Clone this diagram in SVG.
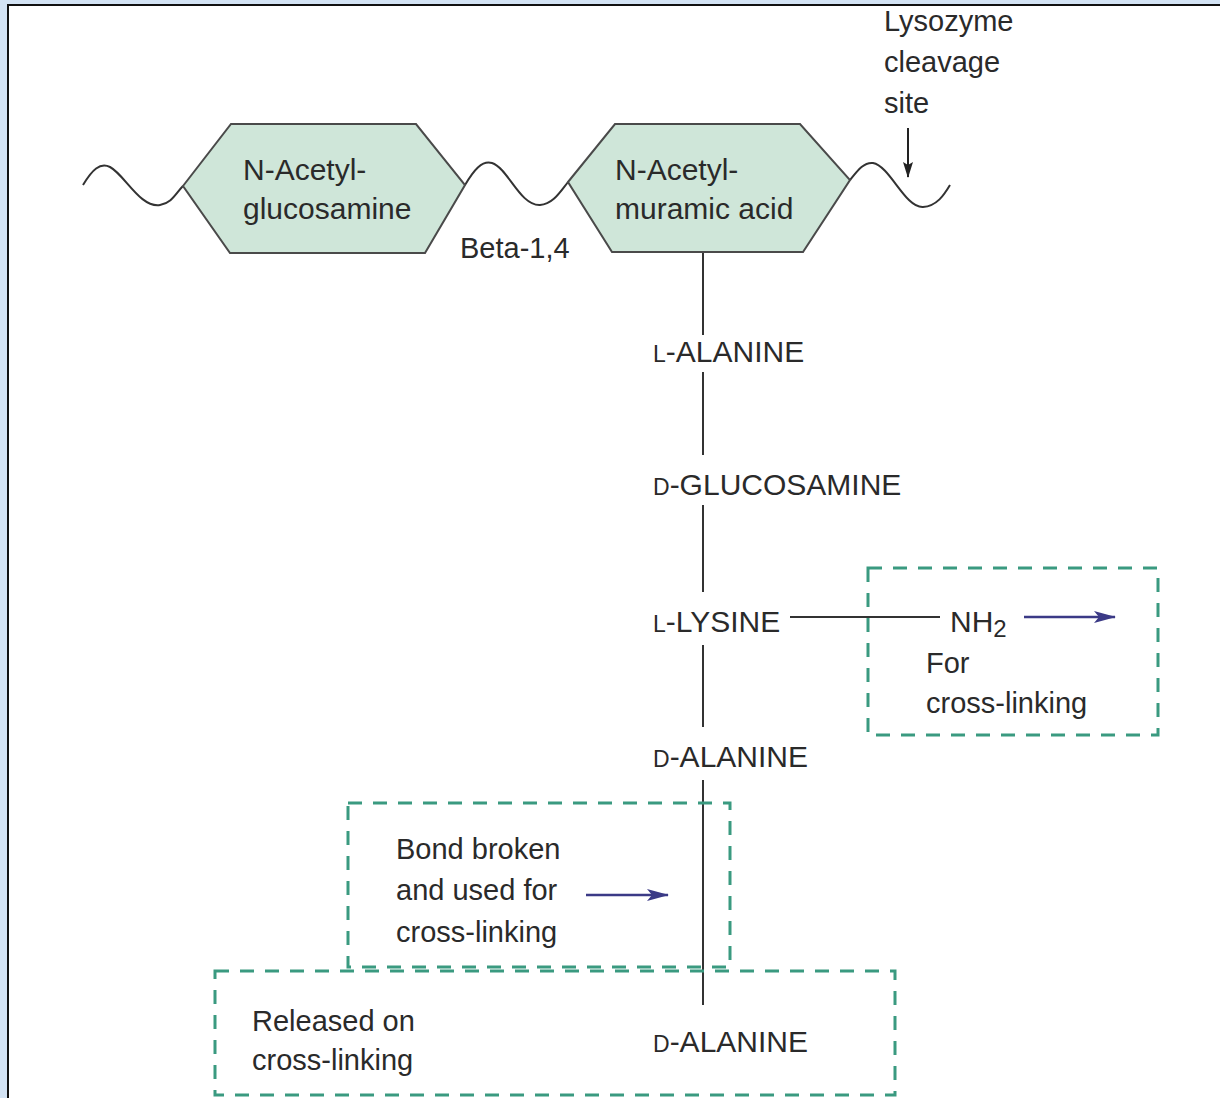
<svg xmlns="http://www.w3.org/2000/svg" width="1220" height="1098" viewBox="0 0 1220 1098">
<style>
.t{font-family:"Liberation Sans",Arial,sans-serif;fill:#2a2a2a}
.hex{fill:#cfe6d9;stroke:#4a4a4a;stroke-width:2}
.ht{font-size:30px}
.lb{font-size:30px}
.sm{font-size:23px}
.nt{font-size:29px}
.box{fill:none;stroke:#3a9a80;stroke-width:3;stroke-dasharray:14 11}
.ln{fill:none;stroke:#333;stroke-width:2}
.blue{fill:none;stroke:#3b3a86;stroke-width:2.5}
</style>
<defs>
<marker id="ab" viewBox="0 0 22 12" refX="21" refY="6" markerWidth="22" markerHeight="12" markerUnits="userSpaceOnUse" orient="auto">
<path d="M0,0 L22,6 L0,12 L5,6 z" fill="#3b3a86"/>
</marker>
<marker id="ak" viewBox="0 0 16 10" refX="15" refY="5" markerWidth="16" markerHeight="10" markerUnits="userSpaceOnUse" orient="auto">
<path d="M0,0 L16,5 L0,10 L3,5 z" fill="#222"/>
</marker>
</defs>
<rect x="0" y="0" width="1220" height="1098" fill="#d3e3f4"/>
<rect x="8" y="5" width="1230" height="1110" fill="#fff" stroke="#111" stroke-width="2"/>

<g id="connectors">
<path class="ln" d="M83,185 C92,170 100,162 110,167 C125,175 140,208 160,205 C172,203 176,193 183,186"/>
<path class="ln" d="M465,185 C474,170 482,160 492,163 C508,168 520,206 540,205 C553,204 560,192 568,182"/>
<path class="ln" d="M850,180 C858,170 864,162 873,163 C890,166 905,208 923,207 C937,206 944,195 950,185"/>
<line class="ln" x1="703" y1="253" x2="703" y2="335"/>
<line class="ln" x1="703" y1="372" x2="703" y2="455"/>
<line class="ln" x1="703" y1="505" x2="703" y2="592"/>
<line class="ln" x1="703" y1="645" x2="703" y2="727"/>
<line class="ln" x1="703" y1="780" x2="703" y2="1005"/>
<line class="ln" x1="790" y1="617" x2="940" y2="617"/>
<line class="blue" x1="1024" y1="617" x2="1115" y2="617" marker-end="url(#ab)"/>
<line class="blue" x1="586" y1="895" x2="668" y2="895" marker-end="url(#ab)"/>
<line stroke="#222" stroke-width="2" x1="908" y1="128" x2="908" y2="177" marker-end="url(#ak)"/>
</g>

<g id="nag">
<polygon class="hex" points="183,186 231,124 416,124 465,185 425,253 230,253"/>
<text class="t ht" x="243" y="180">N-Acetyl-</text>
<text class="t ht" x="243" y="219">glucosamine</text>
</g>
<g id="nam">
<polygon class="hex" points="568,182 615,124 800,124 850,180 803,252 612,252"/>
<text class="t ht" x="615" y="180">N-Acetyl-</text>
<text class="t ht" x="615" y="219">muramic acid</text>
</g>
<g id="beta"><text class="t nt" x="460" y="258">Beta-1,4</text></g>
<g id="lysozyme">
<text class="t nt" x="884" y="31">Lysozyme</text>
<text class="t nt" x="884" y="72">cleavage</text>
<text class="t nt" x="884" y="113">site</text>
</g>
<g id="l-alanine"><text class="t lb" x="653" y="362"><tspan class="sm">L</tspan>-ALANINE</text></g>
<g id="d-glucosamine"><text class="t lb" x="653" y="495"><tspan class="sm">D</tspan>-GLUCOSAMINE</text></g>
<g id="l-lysine"><text class="t lb" x="653" y="632"><tspan class="sm">L</tspan>-LYSINE</text></g>
<g id="d-alanine-1"><text class="t lb" x="653" y="767"><tspan class="sm">D</tspan>-ALANINE</text></g>
<g id="d-alanine-2"><text class="t lb" x="653" y="1052"><tspan class="sm">D</tspan>-ALANINE</text></g>

<g id="box-nh2">
<rect class="box" x="868" y="568" width="290" height="167"/>
<text class="t lb" x="950" y="632">NH<tspan font-size="24" dy="5">2</tspan></text>
<text class="t nt" x="926" y="673">For</text>
<text class="t nt" x="926" y="713">cross-linking</text>
</g>
<g id="box-bond">
<rect class="box" x="348" y="803" width="382" height="164"/>
<text class="t nt" x="396" y="859">Bond broken</text>
<text class="t nt" x="396" y="900">and used for</text>
<text class="t nt" x="396" y="942">cross-linking</text>
</g>
<g id="box-released">
<rect class="box" x="215" y="971" width="680" height="124"/>
<text class="t nt" x="252" y="1031">Released on</text>
<text class="t nt" x="252" y="1070">cross-linking</text>
</g>
</svg>
